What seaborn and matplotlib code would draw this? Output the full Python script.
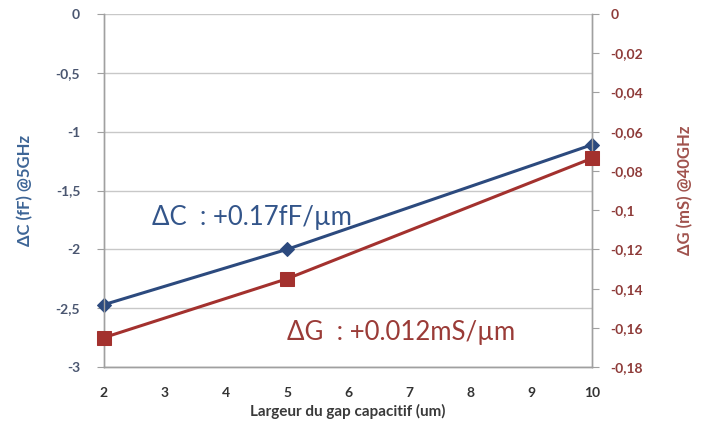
import matplotlib
matplotlib.use("Agg")
import matplotlib.pyplot as plt
import matplotlib.ticker as mticker
import pandas as pd
import seaborn as sns

sns.set_style("white")
plt.rcParams["font.family"] = ["Lato", "DejaVu Sans"]

GAP_UM = [2, 5, 10]
DELTA_C = [-2.47, -2.0, -1.11]
DELTA_G = [-0.165, -0.135, -0.0735]

BLUE = "#2c4a7e"
RED = "#a3312e"


def comma(v, pos):
    s = f"{v:g}"
    return s.replace(".", ",")


df = pd.DataFrame({"gap": GAP_UM, "dc": DELTA_C, "dg": DELTA_G})

fig = plt.figure(figsize=(7.06, 4.37), dpi=100)
ax = fig.add_axes([0.147, 0.160, 0.692, 0.808])
ax2 = ax.twinx()

sns.lineplot(data=df, x="gap", y="dc", ax=ax, color=BLUE, marker="D",
             markersize=7, markeredgecolor=BLUE, linewidth=2.2, clip_on=False,
             zorder=3)
sns.lineplot(data=df, x="gap", y="dg", ax=ax2, color=RED, marker="s",
             markersize=10, markeredgecolor=RED, linewidth=2.2, clip_on=False,
             zorder=3)

ax.set_xlim(2, 10)
ax.set_ylim(-3, 0)
ax2.set_ylim(-0.18, 0)
ax.set_xticks(range(2, 11))
ax.set_yticks([-3, -2.5, -2, -1.5, -1, -0.5, 0])
ax2.set_yticks([-0.18, -0.16, -0.14, -0.12, -0.1, -0.08, -0.06, -0.04, -0.02, 0])
ax.yaxis.set_major_formatter(mticker.FuncFormatter(comma))
ax2.yaxis.set_major_formatter(mticker.FuncFormatter(comma))

ax.grid(axis="y", color="#c8c8c8", linewidth=1)
ax.set_axisbelow(True)
for a in (ax, ax2):
    a.spines["top"].set_visible(False)
    for s in ("left", "right", "bottom"):
        a.spines[s].set_color("#a0a0a0")
        a.spines[s].set_linewidth(1)

ax.tick_params(axis="y", direction="out", length=5, color="#a0a0a0",
               labelsize=10, labelcolor="#4a5670", pad=12)
ax.tick_params(axis="x", length=0, labelsize=10, labelcolor="#333333", pad=14)
ax2.tick_params(axis="y", direction="out", length=5, color="#a0a0a0",
                labelsize=10, labelcolor="#8e3b39", pad=8)
for lab in ax.get_xticklabels():
    lab.set_fontweight("bold")
for lab in ax.get_yticklabels():
    lab.set_fontweight("bold")
for lab in ax2.get_yticklabels():
    lab.set_fontweight("bold")

ax.set_xlabel("Largeur du gap capacitif (um)", fontsize=11, fontweight="bold",
              color="#3a3a3a", labelpad=4)
ax.set_ylabel("ΔC (fF) @5GHz", fontsize=12, fontweight="bold", color="#3d6596",
              labelpad=16)
ax2.set_ylabel("ΔG (mS) @40GHz", fontsize=12, fontweight="bold", color="#a0524d",
               labelpad=24)

ax.text(2.79, -1.725, "ΔC  : +0.17fF/µm", fontsize=18.5, color="#33558a",
        va="center", ha="left")
ax.text(5.0, -2.71, "ΔG  : +0.012mS/µm", fontsize=18.5, color="#9a3b37",
        va="center", ha="left")

fig.savefig("out.png", dpi=100)
